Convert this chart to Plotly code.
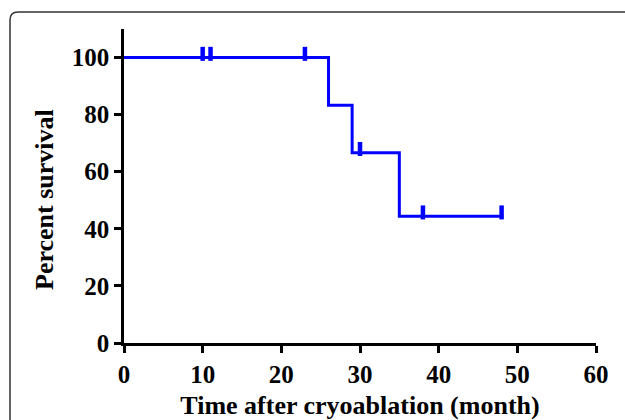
import plotly.graph_objects as go

# Kaplan-Meier step data
step_times = [0, 26, 26, 29, 29, 35, 35, 48]
step_surv = [100, 100, 83.33, 83.33, 66.67, 66.67, 44.44, 44.44]
censor_times = [10, 11, 23, 30, 38, 48]
censor_surv = [100, 100, 100, 66.67, 44.44, 44.44]
x_ticks = [0, 10, 20, 30, 40, 50, 60]
y_ticks = [0, 20, 40, 60, 80, 100]

W, H = 625, 420
ml, mr, mt, mb = 124, 29, 29, 77
pw, ph = W - ml - mr, H - mt - mb

def px(x):
    return (x - ml) / pw

def py(y):
    return (H - mb - y) / ph

fig = go.Figure()
fig.add_trace(go.Scatter(x=step_times, y=step_surv, mode="lines",
                         line=dict(color="#0000FF", width=3), hoverinfo="skip",
                         showlegend=False, cliponaxis=False))
fig.add_trace(go.Scatter(x=censor_times, y=[v + 1.3 for v in censor_surv], mode="markers",
                         marker=dict(symbol="line-ns", size=10, line=dict(color="#0000FF", width=4.5)),
                         showlegend=False, cliponaxis=False))

tickfont = dict(family="Liberation Serif", size=25, color="black")
titlefont = dict(family="Liberation Serif", size=26, color="black")
fig.update_layout(
    width=W, height=H,
    margin=dict(l=ml, r=mr, t=mt, b=mb),
    paper_bgcolor="white", plot_bgcolor="white",
    xaxis=dict(range=[0, 60], tickvals=x_ticks, ticktext=["<b>%d</b>" % v for v in x_ticks],
               automargin=False, tickfont=tickfont,
               showgrid=False, zeroline=False, showline=True, linecolor="black", linewidth=2.5,
               ticks="outside", ticklen=7, tickwidth=2.5, tickcolor="black",
               title=dict(text="<b>Time after cryoablation (month)</b>", standoff=10, font=titlefont)),
    yaxis=dict(range=[0, 110], tickvals=y_ticks, ticktext=["<b>%d</b>" % v for v in y_ticks],
               automargin=False, tickfont=tickfont,
               showgrid=False, zeroline=False, showline=True, linecolor="black", linewidth=2.5,
               ticks="outside", ticklen=7, tickwidth=2.5, tickcolor="black"),
)

fig.add_annotation(text="<b>Percent survival</b>", textangle=-90, xref="paper", yref="paper",
                   x=px(44), y=py(200), xanchor="center", yanchor="middle",
                   showarrow=False, font=titlefont)

# rounded border frame
path = "M {0},{1} L {0},{2} Q {0},{3} {4},{3} L {5},{3}".format(
    px(10), py(440), py(20), py(12), px(18), px(660))
fig.add_shape(type="path", path=path, xref="paper", yref="paper",
              line=dict(color="#333333", width=1.5), layer="above")

fig.write_html("out.html", config={"displayModeBar": False},
               post_script="document.body.style.margin='0px';document.body.style.overflow='hidden';")
